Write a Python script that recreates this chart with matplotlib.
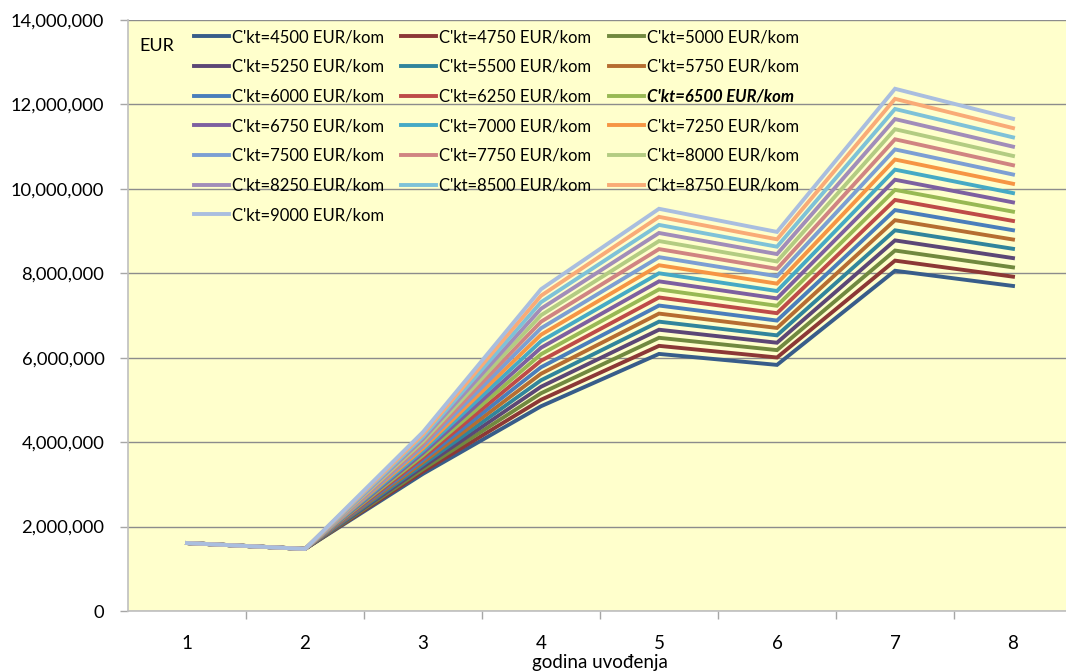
import matplotlib
matplotlib.use("Agg")
import matplotlib.pyplot as plt
from matplotlib.ticker import FuncFormatter, FixedLocator

plt.rcParams['font.family'] = ['Lato', 'DejaVu Sans']

# Data ------------------------------------------------------------------
years = [1, 2, 3, 4, 5, 6, 7, 8]
prices = [4500, 4750, 5000, 5250, 5500, 5750, 6000, 6250, 6500, 6750,
          7000, 7250, 7500, 7750, 8000, 8250, 8500, 8750, 9000]
labels = [f"C'kt={p} EUR/kom" for p in prices]

# values per year (one entry per price series), EUR
year1 = [1610000] * 19
year2 = [1470000] * 19
year3 = [3250000, 3305000, 3360000, 3415000, 3470000, 3525000, 3580000, 3635000, 3690000, 3745000,
         3800000, 3855000, 3910000, 3965000, 4020000, 4075000, 4130000, 4185000, 4240000]
year4 = [4850000, 5004000, 5158000, 5312000, 5466000, 5620000, 5774000, 5928000, 6082000, 6236000,
         6390000, 6544000, 6698000, 6852000, 7006000, 7160000, 7314000, 7468000, 7622000]
year5 = [6090000, 6281000, 6472000, 6663000, 6854000, 7045000, 7236000, 7427000, 7618000, 7809000,
         8000000, 8191000, 8382000, 8573000, 8764000, 8955000, 9146000, 9337000, 9528000]
year6 = [5830000, 6005000, 6180000, 6355000, 6530000, 6705000, 6880000, 7055000, 7230000, 7405000,
         7580000, 7755000, 7930000, 8105000, 8280000, 8455000, 8630000, 8805000, 8980000]
year7 = [8060000, 8300000, 8539000, 8779000, 9018000, 9258000, 9497000, 9737000, 9976000, 10216000,
         10455000, 10695000, 10934000, 11174000, 11413000, 11653000, 11892000, 12132000, 12371000]
year8 = [7700000, 7920000, 8140000, 8360000, 8580000, 8800000, 9020000, 9240000, 9460000, 9680000,
         9900000, 10120000, 10340000, 10560000, 10780000, 11000000, 11220000, 11440000, 11660000]

colors = ['#385D8A', '#8C3836', '#71893F', '#5C4776', '#31859C', '#B66D31',
          '#4A7EBB', '#BE4B48', '#98B954', '#7D60A0', '#46AAC5', '#F69544',
          '#7C9FD3', '#D08482', '#B3CC82', '#A18DB9', '#7EC2D8', '#F9AB77',
          '#A9BEDF']

# Figure ----------------------------------------------------------------
fig = plt.figure(figsize=(10.66, 6.72), dpi=100)
fig.patch.set_facecolor('white')
ax = fig.add_axes([128 / 1066, 61 / 672, 944 / 1066, 591 / 672])
ax.set_facecolor('#FFFFCC')

cols = list(zip(year1, year2, year3, year4, year5, year6, year7, year8))
handles = []
for i, vals in enumerate(cols):
    h, = ax.plot(years, vals, color=colors[i], lw=2.8, solid_joinstyle='miter',
                 label=labels[i], zorder=3)
    handles.append(h)

ax.set_xlim(0.5, 8.5)
ax.set_ylim(0, 14000000)
ax.set_yticks(range(0, 14000001, 2000000))
ax.yaxis.set_major_formatter(FuncFormatter(lambda v, p: f"{int(v):,}"))
ax.grid(axis='y', color='#8C8C8C', lw=1.0, zorder=1)
ax.set_axisbelow(True)

ax.set_xticks(years)
ax.set_xticklabels([str(y) for y in years])
ax.xaxis.set_minor_locator(FixedLocator([1.5, 2.5, 3.5, 4.5, 5.5, 6.5, 7.5]))
ax.tick_params(axis='x', which='major', length=0, pad=17, labelsize=13.5)
ax.tick_params(axis='x', which='minor', length=6, color='#A6A6A6', width=1)
ax.tick_params(axis='y', length=6, color='#A6A6A6', width=1, pad=11, labelsize=13.2)

for s in ['top', 'right']:
    ax.spines[s].set_visible(False)
for s in ['left', 'bottom']:
    ax.spines[s].set_color('#BFBFBF')
    ax.spines[s].set_linewidth(1.2)

ax.set_xlabel('godina uvođenja', fontsize=13.5, labelpad=2)

ax.text(0.012, 0.956, 'EUR', transform=ax.transAxes, fontsize=13,
        ha='left', va='center')

# Legend: row-major order in 3 columns
order = [0, 3, 6, 9, 12, 15, 18, 1, 4, 7, 10, 13, 16, 2, 5, 8, 11, 14, 17]
leg = ax.legend([handles[k] for k in order], [labels[k] for k in order],
                ncol=3, loc='upper left', bbox_to_anchor=(0.066, 0.99),
                frameon=False, fontsize=12.0, handlelength=2.1,
                handletextpad=0.18, labelspacing=0.82, columnspacing=1.05,
                borderpad=0.2, borderaxespad=0)
for t in leg.get_texts():
    if t.get_text() == "C'kt=6500 EUR/kom":
        t.set_fontweight('bold')
        t.set_fontstyle('italic')

fig.savefig('out.png', dpi=100)
